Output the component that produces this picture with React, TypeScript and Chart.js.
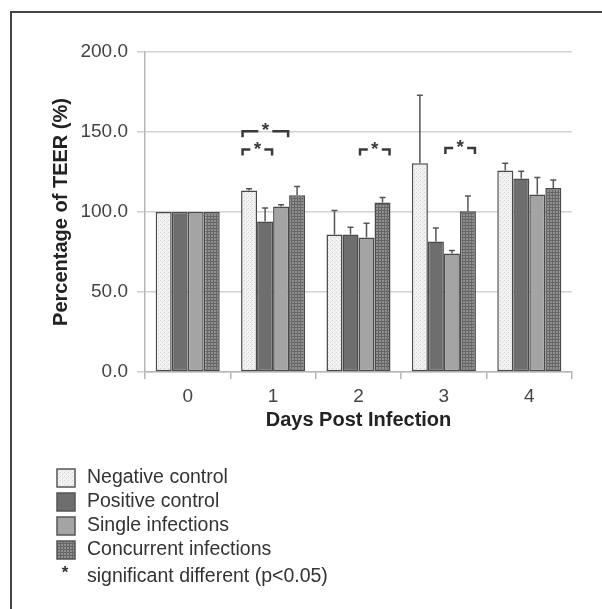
import React, { useEffect, useRef } from "react";
import { Chart, registerables } from "chart.js";

Chart.register(...registerables);

// ---- data ----
const days = ["0", "1", "2", "3", "4"];
const seriesNames = ["Negative control", "Positive control", "Single infections", "Concurrent infections"];
const negative = [100, 113.5, 86, 130.5, 126];
const positive = [100, 94, 86, 81.5, 121];
const single = [100, 103.5, 84, 74, 111];
const concurrent = [100, 110.5, 106, 100.5, 115];
const negativeErr = [0, 1, 15, 42.5, 4.5];
const positiveErr = [0, 8.5, 4.5, 8.5, 4.5];
const singleErr = [0, 1, 9, 2, 10.5];
const concurrentErr = [0, 5.5, 3, 9.5, 5];
const yTicks = [0, 50, 100, 150, 200];
// significance brackets: day index, first bar, last bar, level (y value)
const bracketDays = [1, 1, 2, 3];
const bracketFrom = [0, 0, 2, 2];
const bracketTo = [2, 1, 3, 3];
const bracketLevel = [150.5, 139, 139, 140];
const footnoteMark = "*";
const footnote = "significant different (p<0.05)";
const xTitle = "Days Post Infection";
const yTitle = "Percentage of TEER (%)";

const FONT = '"Liberation Sans", Arial, Helvetica, sans-serif';

function makePattern(kind: string): CanvasPattern | string {
  const c = document.createElement("canvas");
  const ctx = c.getContext("2d")!;
  if (kind === "dots") {
    c.width = 4; c.height = 4;
    ctx.fillStyle = "#f2f2f2"; ctx.fillRect(0, 0, 4, 4);
    ctx.fillStyle = "#d2d2d2"; ctx.fillRect(0, 0, 1, 1);
    ctx.fillStyle = "#d8d8d8"; ctx.fillRect(2, 2, 1, 1);
    ctx.fillStyle = "#e4e4e4"; ctx.fillRect(3, 1, 1, 1);
  } else {
    c.width = 3; c.height = 3;
    ctx.fillStyle = "#8f8f8f"; ctx.fillRect(0, 0, 3, 3);
    ctx.fillStyle = "#636363"; ctx.fillRect(0, 0, 3, 1);
    ctx.fillStyle = "#686868"; ctx.fillRect(0, 0, 1, 3);
  }
  return ctx.createPattern(c, "repeat") || "#999";
}

export default function App() {
  const ref = useRef<HTMLCanvasElement | null>(null);

  useEffect(() => {
    if (!ref.current) return;
    const negFill = makePattern("dots");
    const concFill = makePattern("grid");
    const fills: any[] = [negFill, "#6e6e6e", "#a4a4a4", concFill];
    const values = [negative, positive, single, concurrent];
    const errs = [negativeErr, positiveErr, singleErr, concurrentErr];

    const decor = {
      id: "decor",
      beforeDraw(chart: any) {
        const ctx = chart.ctx;
        ctx.save();
        ctx.fillStyle = "#ffffff";
        ctx.fillRect(0, 0, chart.width, chart.height);
        ctx.restore();
      },
      afterDatasetsDraw(chart: any) {
        const ctx = chart.ctx;
        const ys = chart.scales.y;
        ctx.save();
        // error bars
        ctx.strokeStyle = "#555555";
        ctx.lineWidth = 1.5;
        values.forEach((vals, i) => {
          const meta = chart.getDatasetMeta(i);
          vals.forEach((v, j) => {
            const e = errs[i][j];
            if (!e) return;
            const bar = meta.data[j];
            const top = ys.getPixelForValue(v + e);
            ctx.beginPath();
            ctx.moveTo(bar.x, bar.y);
            ctx.lineTo(bar.x, top);
            ctx.moveTo(bar.x - 3, top);
            ctx.lineTo(bar.x + 3, top);
            ctx.stroke();
          });
        });
        // significance brackets
        ctx.strokeStyle = "#3a3a3a";
        ctx.fillStyle = "#3a3a3a";
        ctx.lineWidth = 2.5;
        bracketDays.forEach((d, k) => {
          const a = chart.getDatasetMeta(bracketFrom[k]).data[d];
          const b = chart.getDatasetMeta(bracketTo[k]).data[d];
          const x1 = a.x - a.width / 2 + 1.5;
          const x2 = b.x + b.width / 2 - 1;
          const y = ys.getPixelForValue(bracketLevel[k]);
          const cx = (x1 + x2) / 2;
          ctx.beginPath();
          ctx.moveTo(x1, y + 6);
          ctx.lineTo(x1, y);
          ctx.lineTo(cx - 7, y);
          ctx.moveTo(cx + 7, y);
          ctx.lineTo(x2, y);
          ctx.lineTo(x2, y + 6);
          ctx.stroke();
          ctx.font = `bold 19px ${FONT}`;
          ctx.textAlign = "center";
          ctx.textBaseline = "alphabetic";
          ctx.fillText("*", cx, y + 5);
        });
        ctx.restore();
      },
      afterDraw(chart: any) {
        const ctx = chart.ctx;
        ctx.save();
        // frame (left and top)
        ctx.strokeStyle = "#444444";
        ctx.lineWidth = 2;
        ctx.beginPath();
        ctx.moveTo(11, chart.height);
        ctx.lineTo(11, 12);
        ctx.lineTo(chart.width, 12);
        ctx.stroke();
        // legend
        ctx.font = `19.5px ${FONT}`;
        ctx.textBaseline = "middle";
        ctx.textAlign = "left";
        seriesNames.forEach((name, i) => {
          const cy = 478 + i * 24;
          ctx.fillStyle = fills[i];
          ctx.fillRect(57, cy - 9, 18, 18);
          ctx.strokeStyle = "#555555";
          ctx.lineWidth = 1.5;
          ctx.strokeRect(57, cy - 9, 18, 18);
          ctx.fillStyle = "#333333";
          ctx.fillText(name, 87, cy);
        });
        const fy = 577;
        ctx.fillStyle = "#333333";
        ctx.fillText(footnote, 87, fy);
        ctx.font = `bold 17px ${FONT}`;
        ctx.textAlign = "center";
        ctx.textBaseline = "alphabetic";
        ctx.fillText(footnoteMark, 65, 578);
        ctx.restore();
      },
    };

    const chart = new Chart(ref.current, {
      type: "bar",
      data: {
        labels: days,
        datasets: values.map((vals, i) => ({
          label: seriesNames[i],
          data: vals,
          backgroundColor: fills[i],
          borderColor: "#4a4a4a",
          borderWidth: 1.5,
          borderSkipped: false,
          categoryPercentage: 0.75,
          barPercentage: 1.0,
        })),
      },
      options: {
        responsive: false,
        animation: false,
        devicePixelRatio: 1,
        layout: { padding: { left: 45, right: 30, top: 52, bottom: 173 } },
        plugins: {
          legend: { display: false },
          tooltip: { enabled: false },
        },
        scales: {
          x: {
            offset: true,
            grid: {
              offset: true,
              drawOnChartArea: false,
              drawTicks: true,
              tickLength: 7,
              color: "#b5b5b5",
              lineWidth: 1.5,
            },
            border: { display: true, color: "#b5b5b5", width: 1.5 },
            ticks: {
              color: "#444444",
              font: { family: FONT, size: 19 },
              padding: 6,
            },
            title: {
              display: true,
              text: xTitle,
              color: "#222222",
              font: { family: FONT, size: 20, weight: "bold" },
            },
            afterFit: (s: any) => { s.height = 64; },
          },
          y: {
            min: 0,
            max: 200,
            afterBuildTicks: (s: any) => { s.ticks = yTicks.map((v) => ({ value: v })); },
            grid: {
              color: "#d2d2d2",
              lineWidth: 1.5,
              drawTicks: true,
              tickLength: 8,
            },
            border: { display: true, color: "#b5b5b5", width: 1.5 },
            ticks: {
              color: "#444444",
              font: { family: FONT, size: 19 },
              padding: 9,
              callback: (v: any) => Number(v).toFixed(1),
            },
            title: {
              display: true,
              text: yTitle,
              color: "#222222",
              font: { family: FONT, size: 20, weight: "bold" },
            },
            afterFit: (s: any) => { s.width = 100; },
          },
        },
      },
      plugins: [decor],
    } as any);

    return () => chart.destroy();
  }, []);

  return (
    <div style={{ position: "fixed", left: 0, top: 0, width: 602, height: 609, background: "#fff" }}>
      <canvas ref={ref} width={602} height={609} style={{ width: 602, height: 609, display: "block" }} />
    </div>
  );
}
